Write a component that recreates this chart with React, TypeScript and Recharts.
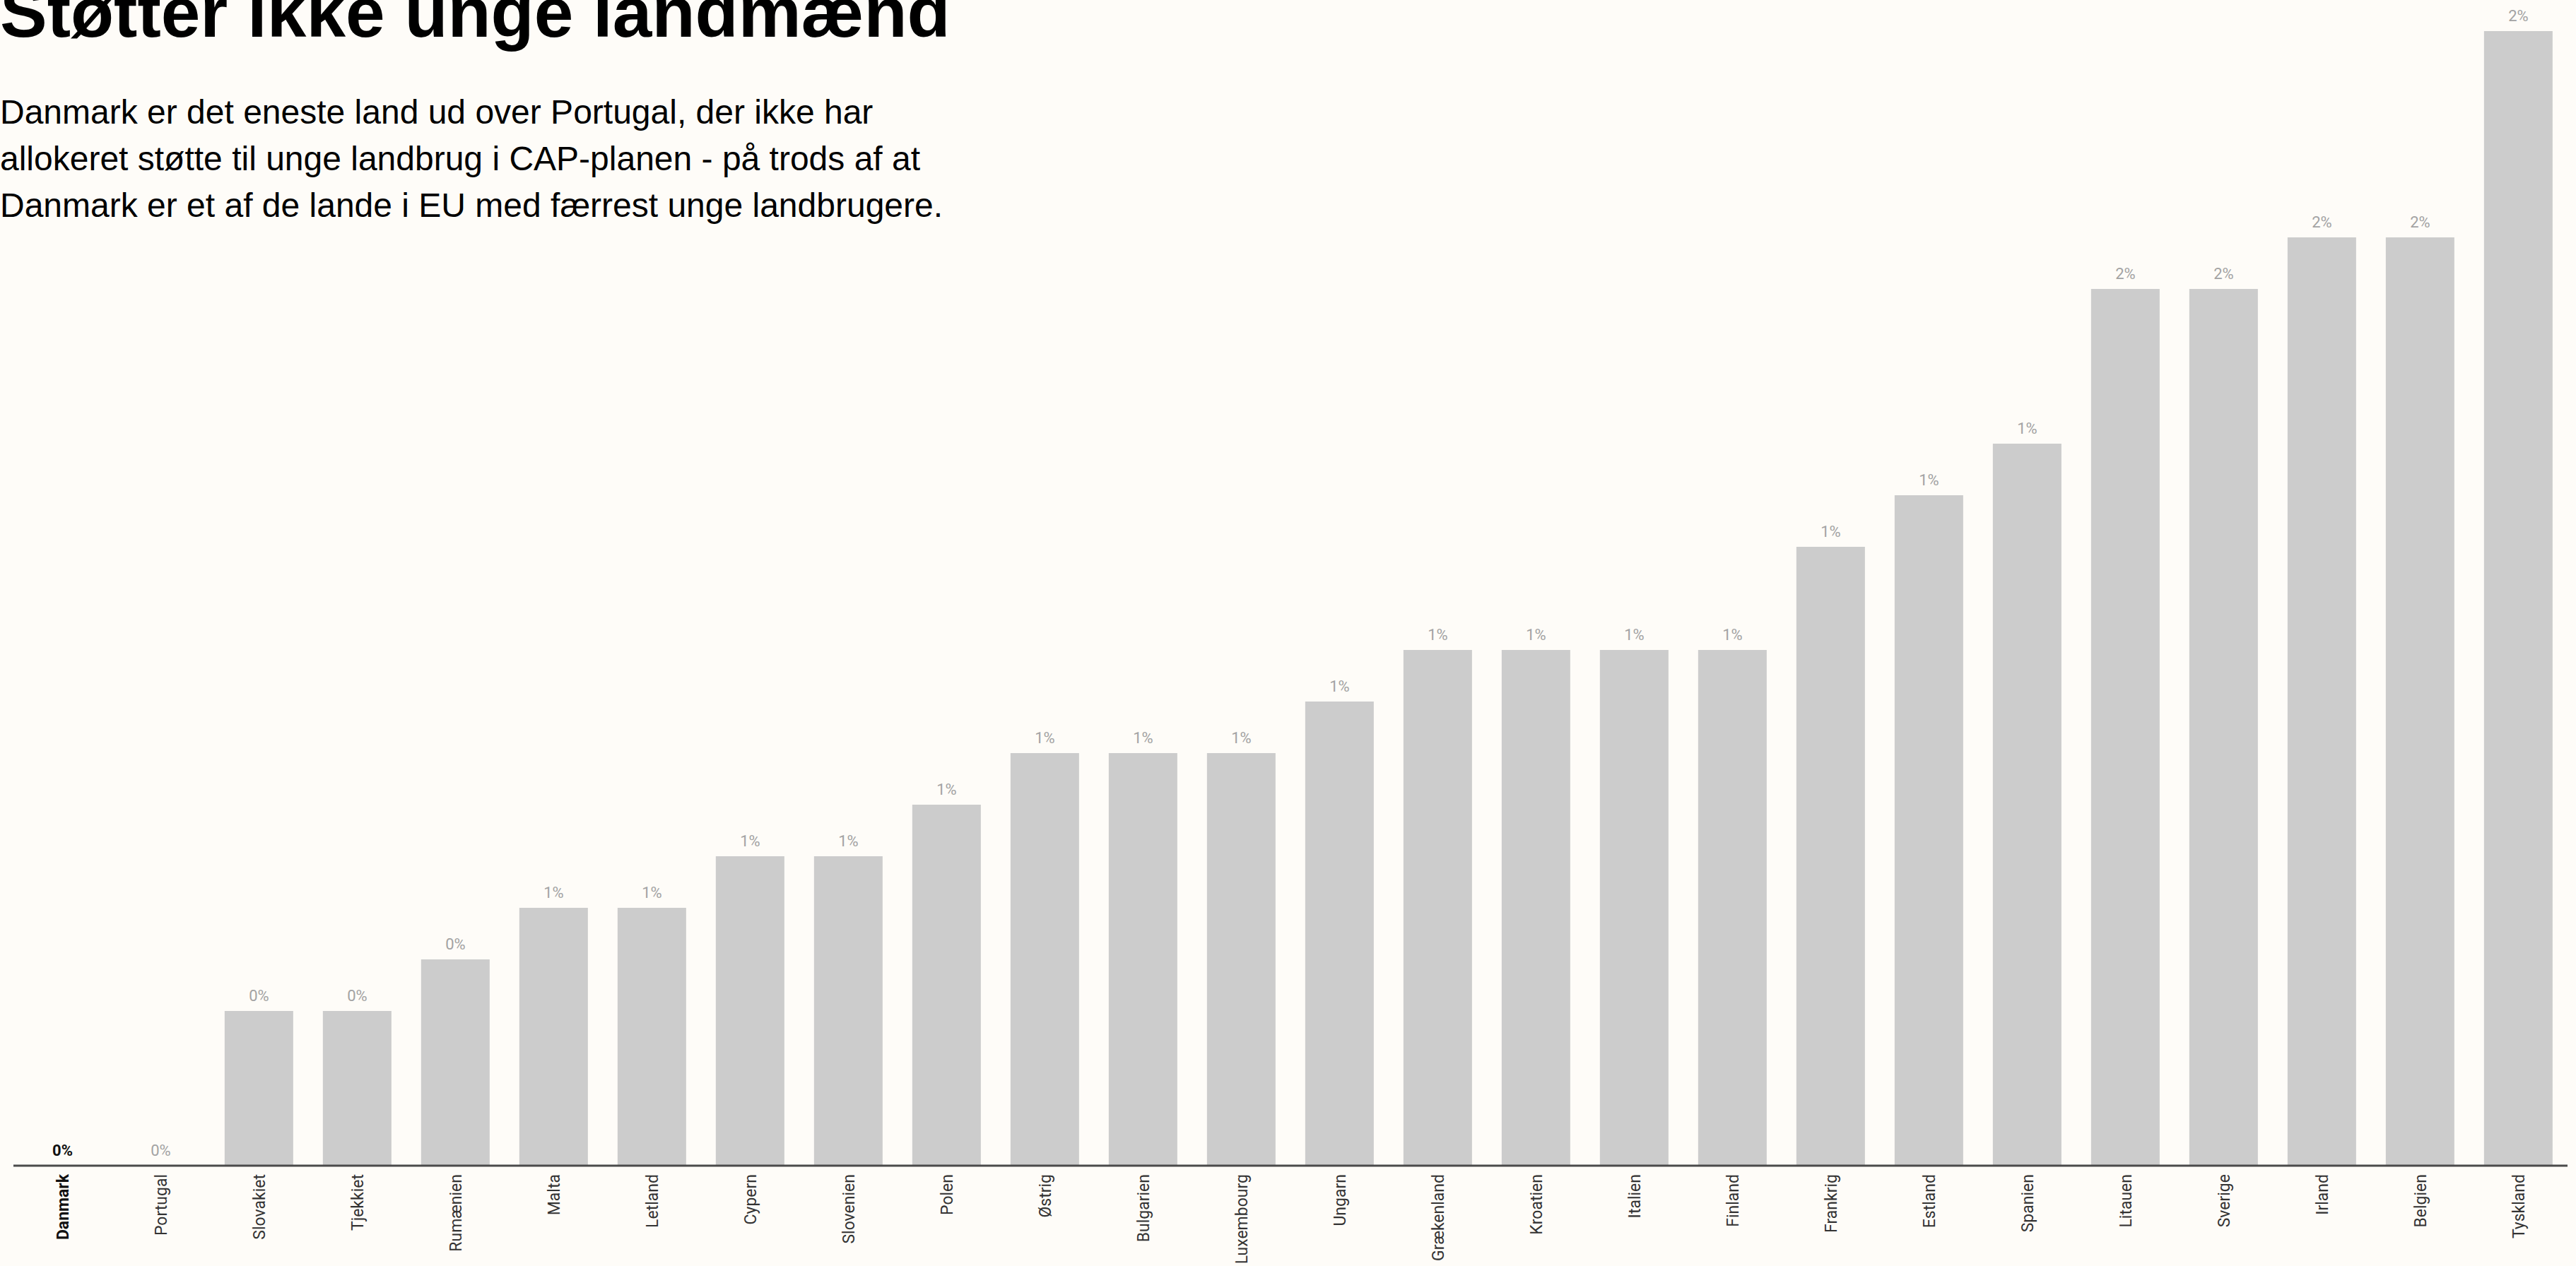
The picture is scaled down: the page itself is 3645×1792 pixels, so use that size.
import { ComposedChart, Bar, Line, XAxis, YAxis, LabelList } from 'recharts';

const countries = [
  'Danmark', 'Portugal', 'Slovakiet', 'Tjekkiet', 'Rumænien', 'Malta', 'Letland', 'Cypern',
  'Slovenien', 'Polen', 'Østrig', 'Bulgarien', 'Luxembourg', 'Ungarn', 'Grækenland', 'Kroatien',
  'Italien', 'Finland', 'Frankrig', 'Estland', 'Spanien', 'Litauen', 'Sverige', 'Irland',
  'Belgien', 'Tyskland',
];

// andel af CAP-budget til unge landbrugere (%)
const shares = [
  0, 0, 0.3, 0.3, 0.4, 0.5, 0.5, 0.6, 0.6, 0.7, 0.8, 0.8, 0.8, 0.9, 1.0, 1.0, 1.0, 1.0, 1.2, 1.3,
  1.4, 1.7, 1.7, 1.8, 1.8, 2.2,
];

const valueLabels = [
  '0%', '0%', '0%', '0%', '0%', '1%', '1%', '1%', '1%', '1%', '1%', '1%', '1%', '1%', '1%', '1%',
  '1%', '1%', '1%', '1%', '1%', '2%', '2%', '2%', '2%', '2%',
];

const highlight = 'Danmark';

const data = countries.map((c, i) => ({ country: c, share: shares[i], label: valueLabels[i] }));

const BG = '#fefcf8';

const CountryTick = ({ x, y, payload }: any) => {
  const bold = payload.value === highlight;
  return (
    <g transform={`translate(${x},${y})`}>
      <text
        transform="rotate(-90)"
        x={-12}
        y={0}
        dy="0.35em"
        textAnchor="end"
        fontFamily="Roboto"
        fontSize={23}
        fontWeight={bold ? 700 : 400}
        fill={bold ? '#111' : '#333'}
      >
        {payload.value}
      </text>
    </g>
  );
};

// labels hang on an invisible line so the zero-height bars get one too
const ValueLabel = (props: any) => {
  const { x, y, index } = props;
  const bold = countries[index] === highlight;
  return (
    <text
      x={x}
      y={y - 14}
      textAnchor="middle"
      fontFamily="Roboto"
      fontSize={22}
      fontWeight={bold ? 700 : 400}
      fill={bold ? '#111' : '#a3a3a3'}
    >
      {valueLabels[index]}
    </text>
  );
};

export default function App() {
  return (
    <div style={{ position: 'relative', width: 3645, height: 1792, background: BG, overflow: 'hidden' }}>
      <style>{`body{margin:0}`}</style>
      <ComposedChart
        width={3645}
        height={1792}
        data={data}
        margin={{ top: 44, right: 12, bottom: 0, left: 19 }}
        barCategoryGap="15%"
      >
        <XAxis
          dataKey="country"
          interval={0}
          height={142}
          tickLine={false}
          tickSize={0}
          tickMargin={0}
          axisLine={{ stroke: '#4a4a4a', strokeWidth: 3 }}
          tick={<CountryTick />}
        />
        <YAxis hide domain={[0, 2.2]} />
        <Bar dataKey="share" fill="#cccccc" isAnimationActive={false} />
        <Line
          dataKey="share"
          stroke="none"
          dot={false}
          activeDot={false}
          isAnimationActive={false}
        >
          <LabelList dataKey="label" content={<ValueLabel />} />
        </Line>
      </ComposedChart>
      <div
        style={{
          position: 'absolute',
          left: 0,
          top: -33,
          fontFamily: '"Liberation Sans", Arial, sans-serif',
          fontWeight: 700,
          fontSize: 100,
          lineHeight: '100px',
          color: '#000',
          whiteSpace: 'nowrap',
        }}
      >
        Støtter ikke unge landmænd
      </div>
      <div
        style={{
          position: 'absolute',
          left: 0,
          top: 126,
          fontFamily: '"Liberation Sans", Arial, sans-serif',
          fontSize: 48,
          lineHeight: '66px',
          color: '#000',
          whiteSpace: 'nowrap',
        }}
      >
        <div>Danmark er det eneste land ud over Portugal, der ikke har</div>
        <div>allokeret støtte til unge landbrug i CAP-planen - på trods af at</div>
        <div>Danmark er et af de lande i EU med færrest unge landbrugere.</div>
      </div>
    </div>
  );
}
